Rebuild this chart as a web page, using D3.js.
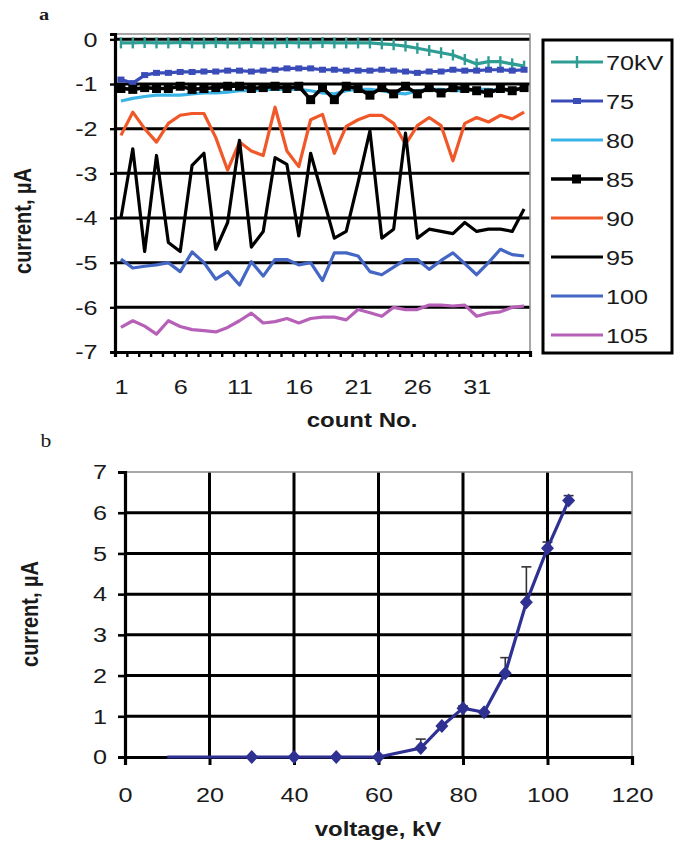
<!DOCTYPE html>
<html><head><meta charset="utf-8">
<script src="https://cdn.jsdelivr.net/npm/d3@7"></script>
<style>
body{margin:0;background:#fff;}
svg text{font-family:"Liberation Sans",Arial,sans-serif;fill:#1a1a1a;}
</style></head><body>
<svg id="c" width="677" height="844"></svg>
<script>
// ---------- data: panel a ----------
const countNo = [1,2,3,4,5,6,7,8,9,10,11,12,13,14,15,16,17,18,19,20,21,22,23,24,25,26,27,28,29,30,31,32,33,34,35];
const countTickLabels = [1,6,11,16,21,26,31];
const currentTicksA = [0,-1,-2,-3,-4,-5,-6,-7];
const seriesNames = ["70kV","75","80","85","90","95","100","105"];
const s70 = [-0.08,-0.08,-0.07,-0.08,-0.08,-0.07,-0.08,-0.08,-0.07,-0.08,-0.08,-0.07,-0.08,-0.08,-0.07,-0.08,-0.08,-0.07,-0.08,-0.08,-0.08,-0.08,-0.1,-0.12,-0.15,-0.2,-0.25,-0.3,-0.35,-0.45,-0.55,-0.5,-0.5,-0.55,-0.6];
const s75 = [-0.9,-0.98,-0.8,-0.75,-0.75,-0.73,-0.73,-0.72,-0.72,-0.7,-0.7,-0.72,-0.7,-0.68,-0.65,-0.65,-0.65,-0.68,-0.68,-0.7,-0.7,-0.7,-0.68,-0.7,-0.72,-0.75,-0.72,-0.72,-0.68,-0.7,-0.7,-0.68,-0.68,-0.7,-0.68];
const s80 = [-1.38,-1.32,-1.28,-1.25,-1.25,-1.25,-1.22,-1.2,-1.2,-1.18,-1.15,-1.15,-1.12,-1.12,-1.12,-1.12,-1.15,-1.2,-1.22,-1.15,-1.12,-1.12,-1.15,-1.2,-1.22,-1.15,-1.12,-1.12,-1.15,-1.15,-1.12,-1.12,-1.15,-1.12,-1.1];
const s85 = [-1.1,-1.12,-1.08,-1.1,-1.1,-1.05,-1.12,-1.1,-1.08,-1.05,-1.05,-1.1,-1.08,-1.05,-1.1,-1.05,-1.35,-1.08,-1.35,-1.05,-1.1,-1.25,-1.08,-1.22,-1.05,-1.22,-1.08,-1.2,-1.08,-1.1,-1.15,-1.2,-1.1,-1.15,-1.08];
const s90 = [-2.15,-1.63,-2.0,-2.3,-1.88,-1.7,-1.66,-1.66,-2.2,-2.93,-2.3,-2.5,-2.6,-1.52,-2.5,-2.85,-1.8,-1.68,-2.55,-1.95,-1.8,-1.7,-1.7,-1.88,-2.35,-1.93,-1.75,-1.93,-2.72,-1.88,-1.75,-1.85,-1.7,-1.78,-1.63];
const s95 = [-4.0,-2.45,-4.75,-2.6,-4.55,-4.75,-2.82,-2.55,-4.7,-4.1,-2.26,-4.65,-4.3,-2.65,-2.8,-4.4,-2.55,-3.5,-4.45,-4.3,-3.2,-2.05,-4.45,-4.25,-2.1,-4.45,-4.25,-4.3,-4.35,-4.1,-4.3,-4.25,-4.25,-4.3,-3.8];
const s100 = [-4.92,-5.12,-5.08,-5.05,-5.0,-5.2,-4.76,-5.0,-5.37,-5.2,-5.5,-4.98,-5.3,-4.93,-4.93,-5.05,-5.0,-5.4,-4.78,-4.78,-4.85,-5.2,-5.27,-5.1,-4.93,-4.93,-5.15,-4.95,-4.78,-5.02,-5.27,-5.0,-4.7,-4.82,-4.85];
const s105 = [-6.45,-6.3,-6.42,-6.6,-6.3,-6.43,-6.5,-6.52,-6.55,-6.45,-6.3,-6.13,-6.35,-6.32,-6.25,-6.35,-6.25,-6.22,-6.22,-6.28,-6.05,-6.12,-6.2,-6.0,-6.05,-6.05,-5.95,-5.95,-5.97,-5.95,-6.2,-6.13,-6.1,-6.0,-5.97];
const seriesColors = ["#2e9e95","#3a4cb8","#3ab4e6","#000000","#f0582a","#000000","#4466c4","#b660b8"];
const seriesMarkers = ["plus","dot","none","square","none","none","none","none"];

// ---------- data: panel b ----------
const voltage = [10,20,30,40,50,60,70,75,80,85,90,95,100,105];
const currentB = [0,0,0,0,0,0,0.22,0.76,1.2,1.1,2.06,3.8,5.13,6.3];
const errUpB = [0,0,0,0,0,0,0.22,0,0.05,0,0.38,0.87,0.15,0.12];
const markedFrom = 30;
const voltageTicks = [0,20,40,60,80,100,120];
const currentTicksB = [0,1,2,3,4,5,6,7];

const SX = 1.2; // horizontal text stretch of the original figure
const LW = 3.2;  // series line width
const GW = 3;    // gridline width
const svg = d3.select("#c");
svg.append("rect").attr("width",677).attr("height",844).attr("fill","#fff");
const plain = d => String(d);

function label(x,y,txt,opts={}){
  const t = svg.append("text")
    .attr("transform",`translate(${x},${y}) scale(${SX},1)` + (opts.rot?` rotate(${opts.rot})`:""))
    .attr("text-anchor",opts.anchor||"middle")
    .style("font-size",(opts.size||21)+"px")
    .style("font-weight",opts.weight||"normal")
    .text(txt);
  if(opts.family) t.style("font-family",opts.family);
  return t;
}

// ================= PANEL A =================
const seriesA = [s70,s75,s80,s85,s90,s95,s100,s105];
const xA = d3.scaleLinear().domain([0.5,35.5]).range([115,530]);
const yA = d3.scaleLinear().domain([-7,0.12]).range([352,34]);
const gA = svg.append("g");

gA.selectAll("line.grid").data(currentTicksA.filter(v=>v>-7)).join("line")
  .attr("x1",xA.range()[0]).attr("x2",xA.range()[1])
  .attr("y1",d=>yA(d)).attr("y2",d=>yA(d))
  .attr("stroke","#000").attr("stroke-width",GW);
gA.append("path").attr("d",`M${xA.range()[0]},${yA.range()[1]}H${xA.range()[1]}V${yA.range()[0]}`)
  .attr("fill","none").attr("stroke","#8a8a8a").attr("stroke-width",1.5);

seriesA.forEach((s,k)=>{
  const pts = countNo.map((c,i)=>[xA(c),yA(s[i])]);
  gA.append("path").attr("d",d3.line()(pts)).attr("fill","none")
    .attr("stroke",seriesColors[k]).attr("stroke-width",k===3?3.6:LW).attr("stroke-linejoin","round");
  const m = seriesMarkers[k];
  if(m==="plus"){
    gA.selectAll(null).data(pts).join("line").attr("x1",d=>d[0]).attr("x2",d=>d[0])
      .attr("y1",d=>d[1]-5.5).attr("y2",d=>d[1]+5.5).attr("stroke",seriesColors[k]).attr("stroke-width",2.4);
  } else if(m==="dot"){
    gA.selectAll(null).data(pts).join("rect").attr("x",d=>d[0]-3.5).attr("y",d=>d[1]-3)
      .attr("width",7).attr("height",6).attr("fill",seriesColors[k]);
  } else if(m==="square"){
    gA.selectAll(null).data(pts).join("rect").attr("x",d=>d[0]-4.5).attr("y",d=>d[1]-4.5)
      .attr("width",9).attr("height",9).attr("fill",seriesColors[k]);
  }
});

const yAxisA = gA.append("g").attr("transform",`translate(${xA.range()[0]},0)`)
  .call(d3.axisLeft(yA).tickValues(currentTicksA).tickSize(5).tickPadding(9.5).tickFormat(plain));
const boundaries = countNo.map(c=>c-0.5).concat([countNo[countNo.length-1]+0.5]);
const xAxisA = gA.append("g").attr("transform",`translate(0,${yA(-7)})`)
  .call(d3.axisBottom(xA).tickValues(boundaries).tickSize(5).tickFormat(""));
const xLabA = gA.append("g").attr("transform",`translate(0,${yA(-7)})`)
  .call(d3.axisBottom(xA).tickValues(countTickLabels).tickSize(0).tickPadding(27).tickFormat(plain));
xLabA.select(".domain").remove();
[yAxisA,xAxisA].forEach(a=>{a.select(".domain").attr("stroke","#000").attr("stroke-width",3.2);
  a.selectAll(".tick line").attr("stroke","#000").attr("stroke-width",2.4);});
[yAxisA,xLabA].forEach(a=>a.selectAll("text").style("font-size","21px").attr("fill","#1a1a1a")
  .attr("transform",`scale(${SX},1)`));

// legend
const lg = gA.append("g");
lg.append("rect").attr("x",543).attr("y",40).attr("width",129).attr("height",313)
  .attr("fill","#fff").attr("stroke","#000").attr("stroke-width",3);
const legY = d3.scalePoint().domain(seriesNames).range([62,335]);
seriesNames.forEach((n,k)=>{
  const y = legY(n);
  lg.append("line").attr("x1",551).attr("x2",603).attr("y1",y).attr("y2",y)
    .attr("stroke",seriesColors[k]).attr("stroke-width",k===3?3.6:LW);
  const m = seriesMarkers[k];
  if(m==="plus") lg.append("line").attr("x1",577).attr("x2",577).attr("y1",y-6).attr("y2",y+6).attr("stroke",seriesColors[k]).attr("stroke-width",2.4);
  if(m==="dot") lg.append("rect").attr("x",573).attr("y",y-3).attr("width",8).attr("height",6).attr("fill",seriesColors[k]);
  if(m==="square") lg.append("rect").attr("x",572).attr("y",y-4.5).attr("width",9).attr("height",9).attr("fill",seriesColors[k]);
  label(606,y+8,n,{anchor:"start",size:21});
});

label(362,427,"count No.",{weight:"bold",size:20});
label(31,221,"current, µA",{weight:"bold",size:20,rot:-90});
label(44,20,"a",{size:17,weight:"bold",family:"'Liberation Serif',serif"});

// ================= PANEL B =================
const xB = d3.scaleLinear().domain([0,120]).range([125,632]);
const yB = d3.scaleLinear().domain([0,7]).range([757,472]);
const gB = svg.append("g");
gB.selectAll("line.hg").data(currentTicksB.filter(v=>v>0&&v<7)).join("line")
  .attr("x1",xB(0)).attr("x2",xB(120)).attr("y1",d=>yB(d)).attr("y2",d=>yB(d))
  .attr("stroke","#000").attr("stroke-width",GW);
gB.selectAll("line.vg").data(voltageTicks.filter(v=>v>0&&v<120)).join("line")
  .attr("x1",d=>xB(d)).attr("x2",d=>xB(d)).attr("y1",yB(0)).attr("y2",yB(7))
  .attr("stroke","#000").attr("stroke-width",GW);
gB.append("path").attr("d",`M${xB(0)},${yB(7)}H${xB(120)}V${yB(0)}`)
  .attr("fill","none").attr("stroke","#8a8a8a").attr("stroke-width",1.5);

const yAxisB = gB.append("g").attr("transform",`translate(${xB(0)},0)`)
  .call(d3.axisLeft(yB).tickValues(currentTicksB).tickSize(7).tickPadding(8).tickFormat(plain));
const xAxisB = gB.append("g").attr("transform",`translate(0,${yB(0)})`)
  .call(d3.axisBottom(xB).tickValues(voltageTicks).tickSize(8).tickPadding(22).tickFormat(plain));
[yAxisB,xAxisB].forEach(a=>{a.select(".domain").attr("stroke","#000").attr("stroke-width",3.2);
  a.selectAll(".tick line").attr("stroke","#000").attr("stroke-width",2.6);
  a.selectAll("text").style("font-size","21px").attr("fill","#1a1a1a").attr("transform",`scale(${SX},1)`);});
xAxisB.selectAll(".tick line").attr("stroke-width",GW);

const navy = "#2e3192";
voltage.forEach((v,i)=>{
  if(errUpB[i]>0){
    const x=xB(v), y0=yB(currentB[i]), y1=yB(currentB[i]+errUpB[i]);
    gB.append("line").attr("x1",x).attr("x2",x).attr("y1",y0).attr("y2",y1).attr("stroke","#333").attr("stroke-width",1.6);
    gB.append("line").attr("x1",x-5).attr("x2",x+5).attr("y1",y1).attr("y2",y1).attr("stroke","#333").attr("stroke-width",1.6);
  }
});
gB.append("path").attr("d",d3.line()(voltage.map((v,i)=>[xB(v),yB(currentB[i])])))
  .attr("fill","none").attr("stroke",navy).attr("stroke-width",3.2);
gB.selectAll(null).data(voltage.map((v,i)=>[v,currentB[i]]).filter(d=>d[0]>=markedFrom)).join("path")
  .attr("d",d=>{const x=xB(d[0]),y=yB(d[1]);return `M${x},${y-7}L${x+6.5},${y}L${x},${y+7}L${x-6.5},${y}Z`;})
  .attr("fill",navy);

label(378,836,"voltage, kV",{weight:"bold",size:20});
label(38,614,"current, µA",{weight:"bold",size:20,rot:-90});
label(46,447,"b",{size:18,weight:"normal",family:"'Liberation Serif',serif"});
</script>
</body></html>
